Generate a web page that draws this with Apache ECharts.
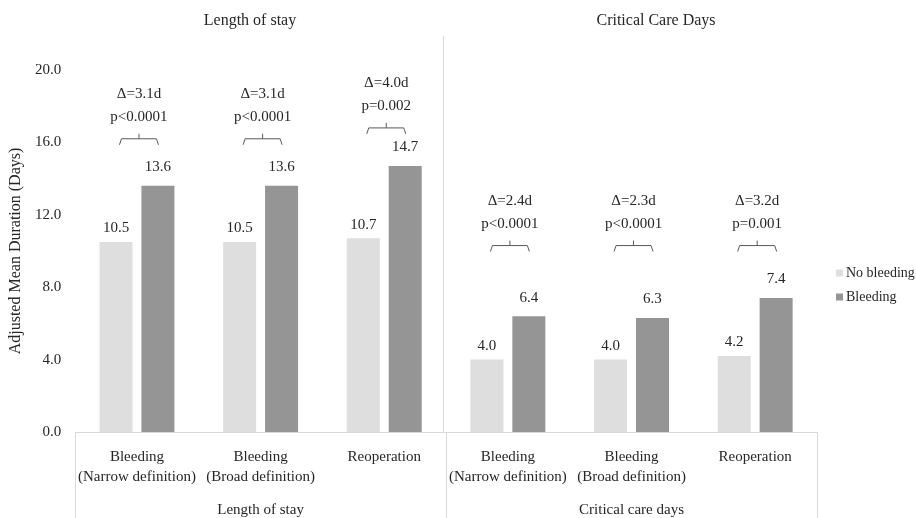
<!DOCTYPE html>
<html>
<head>
<meta charset="utf-8">
<script src="https://cdn.jsdelivr.net/npm/echarts@6/dist/echarts.min.js"></script>
<style>
    html, body { margin: 0; padding: 0; background: #fff; }
    #chartsdiv { width: 916px; height: 518px; }
</style>
</head>
<body>
<div id="chartsdiv"></div>
<script>
// categories and values
var categories = ['Bleeding\n(Narrow definition)', 'Bleeding\n(Broad definition)', 'Reoperation',
    'Bleeding\n(Narrow definition)', 'Bleeding\n(Broad definition)', 'Reoperation'];
var groups = ['Length of stay', 'Critical care days'];
var noBleeding = [10.5, 10.5, 10.7, 4.0, 4.0, 4.2];
var bleeding = [13.6, 13.6, 14.7, 6.4, 6.3, 7.4];
var deltaLabels = ['Δ=3.1d', 'Δ=3.1d', 'Δ=4.0d', 'Δ=2.4d', 'Δ=2.3d', 'Δ=3.2d'];
var pLabels = ['p<0.0001', 'p<0.0001', 'p=0.002', 'p<0.0001', 'p<0.0001', 'p=0.001'];
var bracketLevels = [16.2, 16.2, 16.8, 10.3, 10.3, 10.3];
var yTicks = [0, 4, 8, 12, 16, 20];

var font = 'Liberation Serif';
var textColor = '#262626';
var lineGray = '#d9d9d9';

// bracket + delta/p text above each pair of bars
function renderBracket(params, api) {
    var i = params.dataIndex;
    var pt = api.coord([api.value(0), api.value(1)]);
    var x = pt[0] + 2;
    var y = pt[1];
    var half = 19.5;
    var st = { stroke: '#595959', lineWidth: 1, fill: null };
    return {
        type: 'group',
        children: [
            { type: 'polyline', shape: { points: [[x - half, y + 6], [x - half + 2, y], [x + half - 2, y], [x + half, y + 6]] }, style: st },
            { type: 'line', shape: { x1: x, y1: y, x2: x, y2: y - 5 }, style: st },
            { type: 'text', x: x, y: y - 22, style: { text: pLabels[i], fill: textColor, font: '15px "' + font + '"', align: 'center', verticalAlign: 'middle' } },
            { type: 'text', x: x, y: y - 45, style: { text: deltaLabels[i], fill: textColor, font: '15px "' + font + '"', align: 'center', verticalAlign: 'middle' } }
        ]
    };
}

var myChart = echarts.init(document.getElementById('chartsdiv'));
var option = {
    animation: false,
    backgroundColor: '#fff',
    textStyle: { fontFamily: font },
    title: [
        { text: 'Length of stay', left: 245, top: 8, textAlign: 'center',
          textStyle: { fontFamily: font, fontSize: 16, fontWeight: 'normal', color: textColor } },
        { text: 'Critical Care Days', left: 651, top: 8, textAlign: 'center',
          textStyle: { fontFamily: font, fontSize: 16, fontWeight: 'normal', color: textColor } }
    ],
    legend: {
        orient: 'vertical',
        left: 831,
        top: 261,
        itemWidth: 7,
        itemHeight: 7,
        itemGap: 10,
        icon: 'rect',
        data: ['No bleeding', 'Bleeding'],
        textStyle: { fontFamily: font, fontSize: 14, color: textColor, padding: [0, 0, 0, -2] }
    },
    grid: { left: 70, right: 99, top: 70, bottom: 86 },
    xAxis: [
        {
            type: 'category',
            data: categories,
            axisLine: { lineStyle: { color: lineGray } },
            axisTick: { show: false },
            axisLabel: { interval: 0, margin: 15, fontFamily: font, fontSize: 15, lineHeight: 20, color: textColor }
        },
        {
            type: 'category',
            position: 'bottom',
            data: groups,
            axisLine: { show: false },
            axisTick: { show: true, length: 86, lineStyle: { color: lineGray } },
            axisLabel: { interval: 0, margin: 71, fontFamily: font, fontSize: 15, color: textColor }
        }
    ],
    yAxis: {
        type: 'value',
        min: yTicks[0],
        max: yTicks[yTicks.length - 1],
        interval: yTicks[1] - yTicks[0],
        name: 'Adjusted Mean Duration (Days)',
        nameLocation: 'middle',
        nameGap: 45,
        nameTextStyle: { fontFamily: font, fontSize: 16, color: textColor },
        axisLine: { show: false },
        axisTick: { show: false },
        splitLine: { show: false },
        axisLabel: {
            margin: 14, fontFamily: font, fontSize: 15, color: textColor,
            formatter: function (v) { return v.toFixed(1); }
        }
    },
    graphic: [
        { type: 'line', shape: { x1: 443.5, y1: 36, x2: 443.5, y2: 432 }, style: { stroke: lineGray, lineWidth: 1 }, silent: true }
    ],
    series: [
        {
            name: 'No bleeding',
            type: 'bar',
            data: noBleeding,
            barWidth: 33,
            barGap: '27%',
            itemStyle: { color: '#dedede' },
            label: {
                show: true, position: 'top', distance: 6,
                fontFamily: font, fontSize: 15, color: textColor,
                formatter: function (p) { return p.value.toFixed(1); }
            }
        },
        {
            name: 'Bleeding',
            type: 'bar',
            data: bleeding,
            barWidth: 33,
            itemStyle: { color: '#959595' },
            label: {
                show: true, position: 'top', distance: 11,
                fontFamily: font, fontSize: 15, color: textColor,
                formatter: function (p) { return p.value.toFixed(1); }
            }
        },
        {
            name: 'brackets',
            type: 'custom',
            renderItem: renderBracket,
            silent: true,
            data: bracketLevels.map(function (v, i) { return [i, v]; }),
            z: 5
        }
    ]
};
myChart.setOption(option);
</script>
</body>
</html>
